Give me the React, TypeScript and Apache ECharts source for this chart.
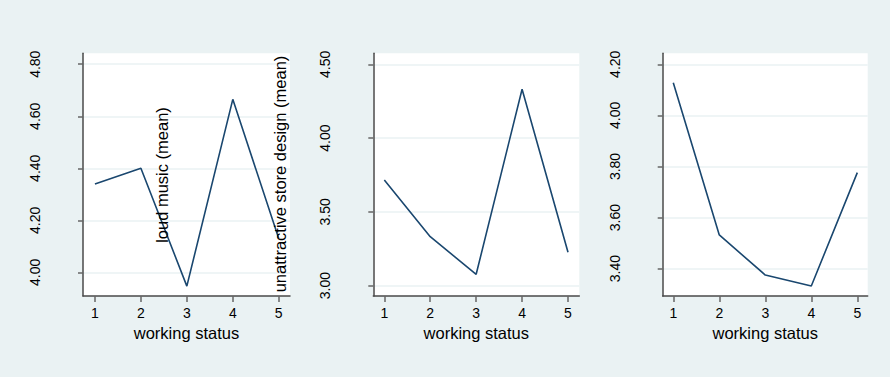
import React, { useEffect, useRef } from "react";
import * as echarts from "echarts";

// ---- data ----
const workingStatus = [1, 2, 3, 4, 5];
const loudMusicMean = [4.34, 4.4, 3.947, 4.665, 4.13];
const unattractiveStoreDesignMean = [3.716, 3.332, 3.077, 4.331, 3.226];
const thirdPanelMean = [4.128, 3.532, 3.375, 3.332, 3.776];
const yTicks1 = [4.0, 4.2, 4.4, 4.6, 4.8];
const yTicks2 = [3.0, 3.5, 4.0, 4.5];
const yTicks3 = [3.4, 3.6, 3.8, 4.0, 4.2];
const xTicks = [1, 2, 3, 4, 5];
const xTitle = "working status";
const yTitle1 = "loud music (mean)";
const yTitle2 = "unattractive store design (mean)";

// axis extents (Stata plot-region margins)
const xRanges = [
  [0.74, 5.245],
  [0.76, 5.246],
  [0.77, 5.226],
];
const yRanges = [
  [3.909, 4.842],
  [2.93, 4.575],
  [3.293, 4.243],
];

const BG = "#EAF2F3";
const NAVY = "#1A476F";
const AXIS = "#4a4a4a";
const FONT = "'Liberation Sans', Arial, sans-serif";

export default function App() {
  const ref = useRef<HTMLDivElement>(null);
  useEffect(() => {
    if (!ref.current) return;
    const chart = echarts.init(ref.current, undefined, { renderer: "svg" });
    const grids = [
      { left: 83, top: 53.3, width: 207, height: 242.7 },
      { left: 373.3, top: 53.3, width: 206, height: 242.7 },
      { left: 662.7, top: 53.3, width: 205, height: 242.7 },
    ];
    const yTicks = [yTicks1, yTicks2, yTicks3];
    const series = [loudMusicMean, unattractiveStoreDesignMean, thirdPanelMean];
    const option: any = {
      animation: false,
      backgroundColor: BG,
      grid: grids.map((g) => ({
        ...g,
        show: true,
        backgroundColor: "#ffffff",
        borderWidth: 0,
        containLabel: false,
        outerBoundsMode: "none",
      })),
      xAxis: grids.map((_, i) => ({
        type: "value",
        gridIndex: i,
        min: xRanges[i][0],
        max: xRanges[i][1],
        name: xTitle,
        nameLocation: "middle",
        nameGap: 26,
        nameTextStyle: { fontSize: 16.5, color: "#000", fontFamily: FONT },
        axisLine: { show: true, onZero: false, lineStyle: { color: AXIS, width: 1.5 } },
        axisTick: {
          show: true,
          length: 6,
          customValues: xTicks,
          lineStyle: { color: "#666", width: 1.5 },
        },
        axisLabel: {
          customValues: xTicks,
          margin: 10,
          fontSize: 14,
          color: "#000",
          fontFamily: FONT,
          formatter: (v: number) => String(v),
        },
        splitLine: { show: false },
      })),
      yAxis: grids.map((_, i) => ({
        type: "value",
        gridIndex: i,
        min: yRanges[i][0],
        max: yRanges[i][1],
        axisLine: { show: true, onZero: false, lineStyle: { color: AXIS, width: 1.5 } },
        axisTick: {
          show: true,
          length: 5,
          customValues: yTicks[i],
          lineStyle: { color: "#666", width: 1.5 },
        },
        axisLabel: {
          customValues: yTicks[i],
          rotate: 90,
          margin: 41,
          fontSize: 14,
          color: "#000",
          fontFamily: FONT,
          formatter: (v: number) => v.toFixed(2),
        },
        splitLine: { show: true, lineStyle: { color: BG, width: 1.5 } },
      })),
      series: series.map((vals, i) => ({
        type: "line",
        xAxisIndex: i,
        yAxisIndex: i,
        data: workingStatus.map((x, k) => [x, vals[k]]),
        symbol: "none",
        lineStyle: { color: NAVY, width: 1.6 },
        silent: true,
      })),
      graphic: [
        {
          type: "text",
          x: 162,
          y: 175,
          rotation: Math.PI / 2,
          z: 100,
          style: {
            text: yTitle1,
            fontSize: 16.5,
            fontFamily: FONT,
            fill: "#000",
            align: "center",
            verticalAlign: "middle",
          },
        },
        {
          type: "text",
          x: 279.5,
          y: 174,
          rotation: Math.PI / 2,
          z: 100,
          style: {
            text: yTitle2,
            fontSize: 16.5,
            fontFamily: FONT,
            fill: "#000",
            align: "center",
            verticalAlign: "middle",
          },
        },
      ],
    };
    chart.setOption(option);
    return () => chart.dispose();
  }, []);
  return (
    <div
      ref={ref}
      style={{ position: "fixed", left: 0, top: 0, width: 890, height: 377 }}
    />
  );
}
